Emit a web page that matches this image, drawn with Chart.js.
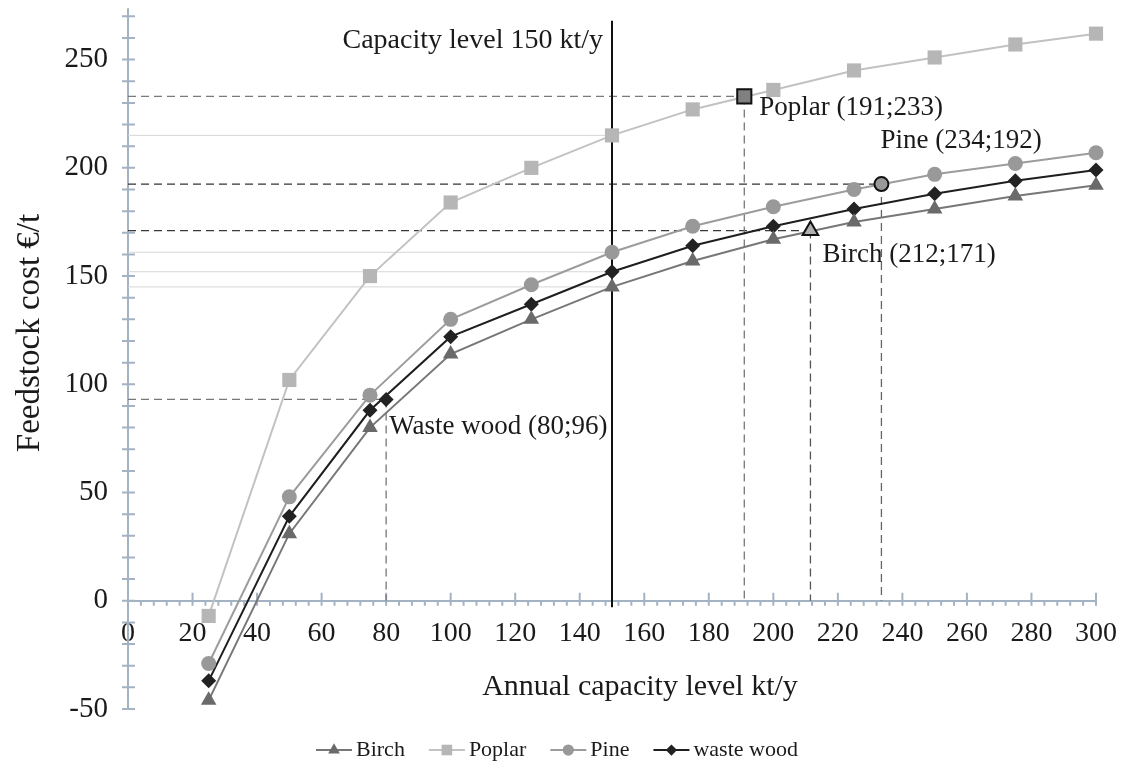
<!DOCTYPE html>
<html>
<head>
<meta charset="utf-8">
<script src="https://cdn.jsdelivr.net/npm/chart.js@4/dist/chart.umd.min.js"></script>
<style>
  html, body { margin: 0; padding: 0; background: #fff; }
  #wrap { width: 1121px; height: 773px; }
</style>
</head>
<body>
<div id="wrap"><canvas id="chart" width="1121" height="773"></canvas></div>
<script>
// annual capacity levels (kt/y)
const capacities = [25, 50, 75, 100, 125, 150, 175, 200, 225, 250, 275, 300];
// feedstock cost (€/t)
const birch  = [-46, 31, 80, 114, 130, 145, 157, 167, 175, 181, 187, 192];
const poplar = [-7, 102, 150, 184, 200, 215, 227, 236, 245, 251, 257, 262];
const pine   = [-29, 48, 95, 130, 146, 161, 173, 182, 190, 197, 202, 207];
const waste  = [-37, 39, 88, 122, 137, 152, 164, 173, 181, 188, 194, 199];

// highlighted points
const hlNames  = ['Poplar', 'Pine', 'Birch', 'waste wood'];
const hlX      = [191, 233.5, 211.5, 80];
const hlY      = [233, 192.5, 171, 93];
const hlLabels = ['Poplar (191;233)', 'Pine (234;192)', 'Birch (212;171)', 'Waste wood (80;96)'];

const capacityLevel = 150;
const capacityRange = [-3, 268];
const capacityLabel = 'Capacity level 150 kt/y';

const xTickLabels = [0, 20, 40, 60, 80, 100, 120, 140, 160, 180, 200, 220, 240, 260, 280, 300];
const yTickLabels = [-50, 0, 50, 100, 150, 200, 250];

const FONT = "'Liberation Serif', 'Times New Roman', serif";
const axisColor = '#a4b3c3';
const textColor = '#1a1a1a';

const series = [
  { label: 'Birch', values: birch, color: '#777777', marker: '#6a6a6a', style: 'triangle', r: 9 },
  { label: 'Poplar', values: poplar, color: '#c2c2c2', marker: '#b6b6b6', style: 'rect', r: 10 },
  { label: 'Pine', values: pine, color: '#9c9c9c', marker: '#999999', style: 'circle', r: 7.5 },
  { label: 'waste wood', values: waste, color: '#1e1e1e', marker: '#222222', style: 'rectRot', r: 7.5 }
];

const datasets = series.map(s => ({
  label: s.label,
  data: capacities.map((c, i) => ({ x: c, y: s.values[i] })),
  borderColor: s.color,
  backgroundColor: s.marker,
  pointBackgroundColor: s.marker,
  pointBorderColor: s.marker,
  pointBorderWidth: 0,
  pointStyle: s.style,
  pointRadius: s.r,
  borderWidth: 2,
  clip: false,
  order: 1
}));

// highlight markers
const hlStyle = {
  'Poplar': { fill: '#808080', style: 'rect', r: 10, bw: 2 },
  'Pine': { fill: '#999999', style: 'circle', r: 7, bw: 2 },
  'Birch': { fill: '#b0b0b0', style: 'triangle', r: 9, bw: 2 },
  'waste wood': { fill: '#222222', style: 'rectRot', r: 7.5, bw: 0 }
};
hlNames.forEach((n, i) => {
  const st = hlStyle[n];
  datasets.push({
    label: '_hl',
    data: [{ x: hlX[i], y: hlY[i] }],
    showLine: false,
    pointStyle: st.style,
    pointRadius: st.r,
    pointBackgroundColor: st.fill,
    pointBorderColor: '#111',
    pointBorderWidth: st.bw,
    order: 0
  });
});

// dashed guide lines to the axes
const guideH = ['#7a7a7a', '#333333', '#3a3a3a', '#777777'];
const guideV = ['#777777', '#666666', '#555555', '#777777'];
hlNames.forEach((n, i) => {
  datasets.push({
    label: '_guide',
    data: [{ x: 0, y: hlY[i] }, { x: hlX[i], y: hlY[i] }],
    borderColor: guideH[i], borderWidth: 1.3, borderDash: [8, 5],
    pointRadius: 0, order: 5
  });
  datasets.push({
    label: '_guide',
    data: [{ x: hlX[i], y: hlY[i] }, { x: hlX[i], y: 0 }],
    borderColor: guideV[i], borderWidth: 1.3, borderDash: [8, 5],
    pointRadius: 0, order: 5
  });
});

// thin lines marking each series value at the capacity level
const levelIdx = capacities.indexOf(capacityLevel);
series.forEach(s => {
  datasets.push({
    label: '_level',
    data: [{ x: 0, y: s.values[levelIdx] }, { x: capacityLevel, y: s.values[levelIdx] }],
    borderColor: '#d6d6d6', borderWidth: 1, pointRadius: 0, order: 6
  });
});

// capacity level line
datasets.push({
  label: '_cap',
  data: [{ x: capacityLevel, y: capacityRange[0] }, { x: capacityLevel, y: capacityRange[1] }],
  borderColor: '#111111', borderWidth: 2, pointRadius: 0, order: 4
});

const axisTicks = {
  id: 'axisTicks',
  beforeDatasetsDraw(chart) {
    const { ctx, scales: { x, y } } = chart;
    const y0 = y.getPixelForValue(0), x0 = x.getPixelForValue(0);
    ctx.save();
    ctx.strokeStyle = axisColor;
    ctx.lineWidth = 2;
    ctx.beginPath();
    for (let v = 0; v <= 300; v += 4) {
      const px = x.getPixelForValue(v);
      if (v % 20 === 0) { ctx.moveTo(px, y0 - 8); ctx.lineTo(px, y0 + 5); }
      else { ctx.moveTo(px, y0); ctx.lineTo(px, y0 + 5); }
    }
    for (let v = -50; v <= 270; v += 10) {
      const py = y.getPixelForValue(v);
      ctx.moveTo(x0 - 6, py); ctx.lineTo(x0 + 7, py);
    }
    ctx.moveTo(x0, y.getPixelForValue(-50)); ctx.lineTo(x0, y.getPixelForValue(270) - 8);
    ctx.stroke();
    ctx.restore();
  }
};

const labelOffsets = [[15, 11], [-1, -43], [12, 24], [3, 27]];

const annotations = {
  id: 'annotations',
  afterDatasetsDraw(chart) {
    const { ctx, scales: { x, y } } = chart;
    ctx.save();
    ctx.fillStyle = textColor;
    ctx.font = '27px ' + FONT;
    ctx.textBaseline = 'middle';
    ctx.textAlign = 'left';
    hlLabels.forEach((t, i) => {
      const px = x.getPixelForValue(hlX[i]), py = y.getPixelForValue(hlY[i]);
      ctx.fillText(t, px + labelOffsets[i][0], py + labelOffsets[i][1]);
    });
    ctx.textAlign = 'right';
    ctx.font = '28px ' + FONT;
    ctx.fillText(capacityLabel, x.getPixelForValue(capacityLevel) - 9, 41);

    // axis titles
    ctx.textAlign = 'center';
    ctx.font = '30px ' + FONT;
    ctx.fillText('Annual capacity level kt/y', 640, 687);
    ctx.save();
    ctx.translate(30, 333);
    ctx.rotate(-Math.PI / 2);
    ctx.font = '33px ' + FONT;
    ctx.fillText('Feedstock cost €/t', 0, 0);
    ctx.restore();

    // legend
    ctx.font = '22px ' + FONT;
    ctx.textAlign = 'left';
    const ly = 750;
    let lx = 316;
    series.forEach(s => {
      ctx.strokeStyle = s.color;
      ctx.lineWidth = 2;
      ctx.beginPath();
      ctx.moveTo(lx, ly); ctx.lineTo(lx + 36, ly);
      ctx.stroke();
      ctx.fillStyle = s.marker;
      ctx.strokeStyle = s.marker;
      Chart.helpers.drawPoint(ctx, { pointStyle: s.style, radius: s.r * 0.75, borderWidth: 0 }, lx + 18, ly);
      ctx.fillStyle = textColor;
      ctx.fillText(s.label, lx + 40, ly);
      lx += 40 + ctx.measureText(s.label).width + 24;
    });
    ctx.restore();
  }
};

Chart.defaults.font.family = FONT;
Chart.defaults.font.size = 28;
Chart.defaults.color = textColor;

new Chart(document.getElementById('chart'), {
  type: 'line',
  data: { datasets },
  plugins: [axisTicks, annotations],
  options: {
    responsive: false,
    devicePixelRatio: 1,
    animation: false,
    layout: { autoPadding: false, padding: { left: 0, right: 25, top: 12, bottom: 64 } },
    plugins: { legend: { display: false }, tooltip: { enabled: false } },
    scales: {
      x: {
        type: 'linear',
        position: { y: 0 },
        min: 0, max: 300,
        afterBuildTicks(scale) { scale.ticks = xTickLabels.map(v => ({ value: v })); },
        afterFit(scale) { scale.paddingLeft = 0; scale.paddingRight = 0; },
        ticks: { padding: 16, autoSkip: false, maxRotation: 0, color: textColor },
        grid: { display: false, drawTicks: false },
        border: { display: true, color: axisColor, width: 2 }
      },
      y: {
        type: 'linear',
        position: 'left',
        min: -50, max: 272,
        afterBuildTicks(scale) { scale.ticks = yTickLabels.map(v => ({ value: v })); },
        afterFit(scale) { scale.width = 128; scale.paddingTop = 0; scale.paddingBottom = 0; },
        ticks: { padding: 20, color: textColor, font: { size: 29 } },
        grid: { display: false, drawTicks: false },
        border: { display: true, color: axisColor, width: 2 }
      }
    }
  }
});
</script>
</body>
</html>
